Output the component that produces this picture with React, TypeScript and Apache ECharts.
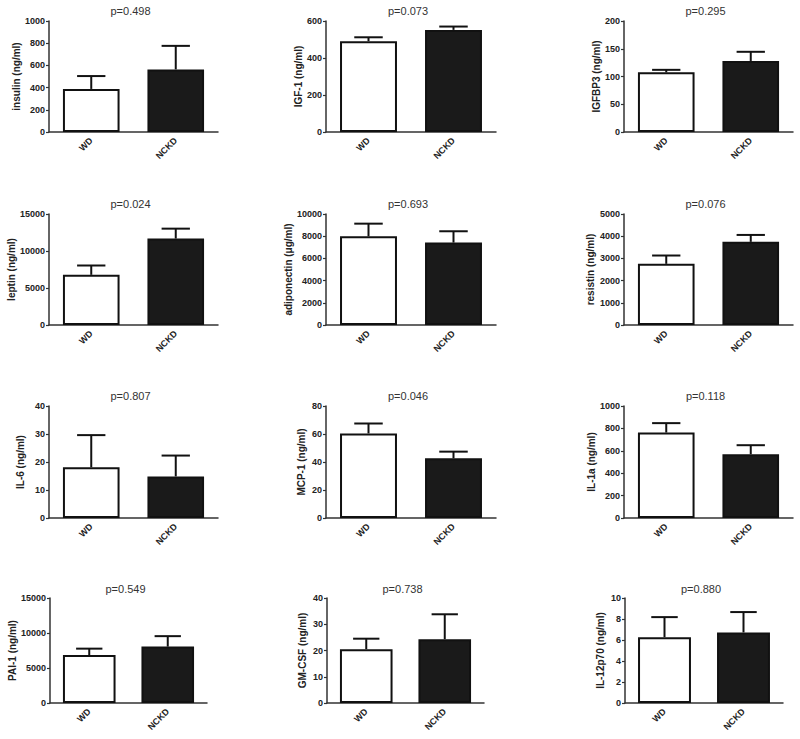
import React, { useEffect, useRef } from "react";
import * as echarts from "echarts";

// ---- data ----
const groups = ["WD", "NCKD"];
const yNames = [
  "insulin (ng/ml)", "IGF-1 (ng/ml)", "IGFBP3 (ng/ml)",
  "leptin (ng/ml)", "adiponectin (μg/ml)", "resistin (ng/ml)",
  "IL-6 (ng/ml)", "MCP-1 (ng/ml)", "IL-1a (ng/ml)",
  "PAI-1 (ng/ml)", "GM-CSF (ng/ml)", "IL-12p70 (ng/ml)",
];
const pValues = [
  "p=0.498", "p=0.073", "p=0.295",
  "p=0.024", "p=0.693", "p=0.076",
  "p=0.807", "p=0.046", "p=0.118",
  "p=0.549", "p=0.738", "p=0.880",
];
const yMax = [1000, 600, 200, 15000, 10000, 5000, 40, 80, 1000, 15000, 40, 10];
const yStep = [200, 200, 50, 5000, 2000, 1000, 10, 20, 200, 5000, 10, 2];
const wdMean = [388, 491, 107.5, 6780, 7990, 2755, 18.1, 60.4, 763, 6850, 20.5, 6.27];
const wdUpper = [504, 512, 112, 8040, 9130, 3130, 29.6, 67.5, 847, 7765, 24.5, 8.18];
const nckdMean = [564, 552, 128, 11680, 7425, 3745, 14.85, 42.6, 569, 8055, 24.3, 6.72];
const nckdUpper = [776, 570, 144.5, 13020, 8445, 4057, 22.3, 47.4, 650, 9550, 33.8, 8.66];

// ---- layout ----
const rowTop = [21, 214, 406, 598];
const rowBottom = [132, 325, 518, 703];
const colLeft = [[49, 326, 624], [49, 326, 624], [49, 326, 624], [50, 327, 625]];
const colWidth = [[169, 170, 169], [169, 170, 169], [169, 170, 169], [157, 157, 158]];
const titleY = [11, 204, 396, 589];
const nameGaps = [26, 21, 23, 31, 31, 29, 24, 20, 28, 30, 20, 20];

const FONT = "'Liberation Sans', Arial, Helvetica, sans-serif";
const AXIS_COLOR = "#333";

export default function App() {
  const ref = useRef<HTMLDivElement>(null);
  useEffect(() => {
    if (!ref.current) return;
    const chart = echarts.init(ref.current, null, { renderer: "svg" });
    const grids: any[] = [];
    const xAxes: any[] = [];
    const yAxes: any[] = [];
    const series: any[] = [];
    const graphics: any[] = [];
    for (let i = 0; i < 12; i++) {
      const r = Math.floor(i / 3);
      const c = i % 3;
      const left = colLeft[r][c];
      const width = colWidth[r][c];
      const top = rowTop[r];
      const height = rowBottom[r] - rowTop[r];
      grids.push({ left, top, width, height, containLabel: false });
      xAxes.push({
        type: "category",
        gridIndex: i,
        data: groups,
        axisLine: { lineStyle: { color: AXIS_COLOR, width: 1.5 } },
        axisTick: { alignWithLabel: true, length: 4, lineStyle: { color: AXIS_COLOR, width: 1.2 } },
        axisLabel: {
          rotate: 45,
          margin: 7,
          fontSize: 9,
          fontWeight: "bold",
          fontFamily: FONT,
          color: "#222",
          interval: 0,
        },
      });
      yAxes.push({
        type: "value",
        gridIndex: i,
        min: 0,
        max: yMax[i],
        interval: yStep[i],
        name: yNames[i],
        nameLocation: "middle",
        nameGap: nameGaps[i],
        nameTextStyle: { fontSize: 10, fontWeight: "bold", fontFamily: FONT, color: "#222" },
        splitLine: { show: false },
        axisLine: { show: true, lineStyle: { color: AXIS_COLOR, width: 1.5 } },
        axisTick: { show: true, length: 3, lineStyle: { color: AXIS_COLOR, width: 1.2 } },
        axisLabel: {
          fontSize: 9,
          fontWeight: "bold",
          fontFamily: FONT,
          color: "#222",
          margin: 4,
          formatter: (v: number) => String(v),
        },
      });
      series.push({
        type: "bar",
        xAxisIndex: i,
        yAxisIndex: i,
        barCategoryGap: "33%",
        data: [
          { value: wdMean[i], itemStyle: { color: "#fff", borderColor: "#111", borderWidth: 2 } },
          { value: nckdMean[i], itemStyle: { color: "#1a1a1a", borderColor: "#111", borderWidth: 2 } },
        ],
        silent: true,
      });
      // error bars (upper SEM)
      series.push({
        type: "custom",
        xAxisIndex: i,
        yAxisIndex: i,
        z: 5,
        encode: { x: 0, y: [1, 2] },
        data: [
          [0, wdMean[i], wdUpper[i]],
          [1, nckdMean[i], nckdUpper[i]],
        ],
        renderItem: (params: any, api: any) => {
          const x = api.value(0);
          const mean = api.value(1);
          const up = api.value(2);
          const pTop = api.coord([x, up]);
          const pBase = api.coord([x, mean]);
          const band = api.size([1, 0])[0];
          const half = (band * 0.67) / 4;
          const st = { stroke: "#111", lineWidth: 2 };
          return {
            type: "group",
            children: [
              { type: "line", shape: { x1: pTop[0], y1: pBase[1], x2: pTop[0], y2: pTop[1] }, style: st },
              { type: "line", shape: { x1: pTop[0] - half, y1: pTop[1], x2: pTop[0] + half, y2: pTop[1] }, style: st },
            ],
          };
        },
      });
      graphics.push({
        type: "text",
        x: left + width / 2 - 3,
        y: titleY[r],
        style: {
          text: pValues[i],
          font: `11px ${FONT}`,
          fill: "#333",
          textAlign: "center",
          textVerticalAlign: "middle",
          align: "center",
          verticalAlign: "middle",
        },
      });
    }
    chart.setOption({
      animation: false,
      backgroundColor: "#fff",
      grid: grids,
      xAxis: xAxes,
      yAxis: yAxes,
      series,
      graphic: graphics,
    });
    return () => chart.dispose();
  }, []);
  return (
    <div
      ref={ref}
      style={{ position: "absolute", left: 0, top: 0, width: 800, height: 739, background: "#fff" }}
    />
  );
}
